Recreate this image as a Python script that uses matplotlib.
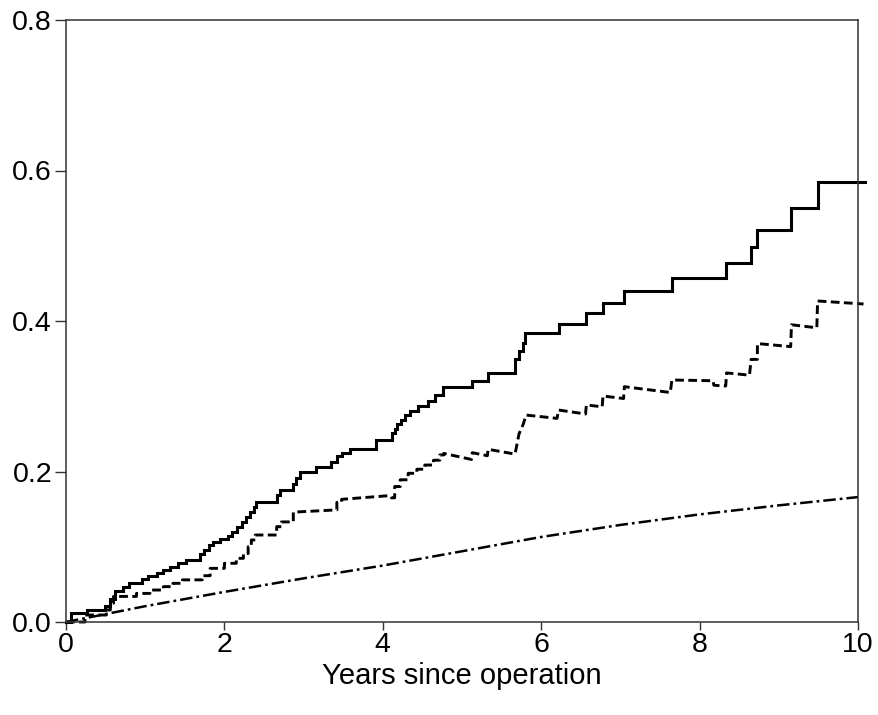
import matplotlib
matplotlib.use("Agg")
import matplotlib.pyplot as plt
import numpy as np

plt.rcParams['font.family'] = ['Liberation Sans', 'DejaVu Sans']

# Observed cumulative incidence (solid step curve): jump times and levels
solid_t = [0, 0.06, 0.26, 0.49, 0.56, 0.62, 0.72, 0.79, 0.955, 1.04, 1.145, 1.23,
           1.31, 1.42, 1.52, 1.69, 1.74, 1.80, 1.86, 1.95, 2.05, 2.10, 2.16, 2.22,
           2.27, 2.32, 2.37, 2.40, 2.67, 2.70, 2.87, 2.91, 2.95, 3.16, 3.35, 3.42,
           3.48, 3.59, 3.92, 4.11, 4.15, 4.18, 4.23, 4.28, 4.34, 4.45, 4.57, 4.66,
           4.76, 5.13, 5.33, 5.67, 5.72, 5.77, 5.80, 6.22, 6.57, 6.78, 7.05, 7.65,
           8.33, 8.65, 8.73, 9.16, 9.49, 10.09]
solid_v = [0.0, 0.0116, 0.016, 0.021, 0.031, 0.0416, 0.047, 0.052, 0.0567, 0.061,
           0.0655, 0.069, 0.0735, 0.079, 0.083, 0.091, 0.096, 0.102, 0.1067, 0.110,
           0.114, 0.120, 0.1267, 0.133, 0.140, 0.1466, 0.153, 0.160, 0.169, 0.176,
           0.184, 0.192, 0.200, 0.2064, 0.213, 0.2206, 0.225, 0.230, 0.242, 0.2507,
           0.257, 0.263, 0.269, 0.275, 0.281, 0.287, 0.294, 0.3017, 0.3127, 0.320,
           0.3305, 0.350, 0.360, 0.371, 0.3836, 0.396, 0.410, 0.4243, 0.440, 0.4567,
           0.477, 0.498, 0.521, 0.550, 0.585, 0.585]

# Excess curve (dashed): vertices (time, value)
dashed_points = [
    (0, 0), (0.24, 0), (0.24, 0.0093), (0.51, 0.0093), (0.51, 0.016), (0.56, 0.016),
    (0.56, 0.025), (0.60, 0.025), (0.60, 0.034), (0.89, 0.034), (0.89, 0.038),
    (1.06, 0.038), (1.06, 0.0425), (1.23, 0.0425), (1.23, 0.047), (1.35, 0.047),
    (1.35, 0.0514), (1.47, 0.0514), (1.47, 0.056), (1.72, 0.056), (1.72, 0.0615),
    (1.82, 0.0615), (1.82, 0.0713), (2.00, 0.0713), (2.00, 0.078), (2.15, 0.078),
    (2.15, 0.0846), (2.24, 0.0846), (2.24, 0.091), (2.30, 0.091), (2.30, 0.100),
    (2.34, 0.100), (2.34, 0.109), (2.39, 0.109), (2.39, 0.1156), (2.66, 0.1156),
    (2.66, 0.1267), (2.72, 0.1267), (2.72, 0.133), (2.87, 0.133), (2.87, 0.146),
    (3.42, 0.149), (3.42, 0.159), (3.48, 0.159), (3.48, 0.163), (4.09, 0.168),
    (4.11, 0.165), (4.15, 0.165), (4.15, 0.180), (4.22, 0.180), (4.22, 0.189),
    (4.32, 0.189), (4.32, 0.1976), (4.43, 0.1976), (4.43, 0.203), (4.53, 0.203),
    (4.53, 0.2086), (4.64, 0.2086), (4.64, 0.215), (4.72, 0.215), (4.72, 0.222),
    (4.77, 0.222), (4.77, 0.224), (5.12, 0.216), (5.13, 0.225), (5.32, 0.221),
    (5.33, 0.2295), (5.66, 0.2233), (5.67, 0.2233), (5.72, 0.250), (5.77, 0.262),
    (5.81, 0.275), (6.20, 0.2706), (6.22, 0.2817), (6.56, 0.2764), (6.57, 0.2884),
    (6.77, 0.286), (6.78, 0.3003), (7.04, 0.297), (7.05, 0.3127), (7.63, 0.305),
    (7.65, 0.3216), (8.17, 0.3206), (8.18, 0.3146), (8.33, 0.3136), (8.34, 0.331),
    (8.63, 0.328), (8.65, 0.349), (8.73, 0.349), (8.73, 0.370), (9.15, 0.366),
    (9.16, 0.395), (9.48, 0.391), (9.49, 0.4266), (10.07, 0.4226)]
dashed_t = [p[0] for p in dashed_points]
dashed_v = [p[1] for p in dashed_points]

# Expected cumulative incidence (dash-dot smooth curve)
expected_t = [0, 1, 2, 3, 4, 5, 6, 7, 8, 9, 10]
expected_v = [0.0, 0.021, 0.040, 0.058, 0.075, 0.094, 0.113, 0.129, 0.143, 0.155, 0.166]

xticks = [0, 2, 4, 6, 8, 10]
xticklabels = ['0', '2', '4', '6', '8', '10']
yticks = [0.0, 0.2, 0.4, 0.6, 0.8]
yticklabels = ['0.0', '0.2', '0.4', '0.6', '0.8']
xlabel = 'Years since operation'

fig = plt.figure(figsize=(8.79, 7.15), dpi=100)
ax = fig.add_axes([66/879, 1 - 622/715, (858 - 66)/879, (622 - 20)/715])

ax.plot(solid_t, solid_v, drawstyle='steps-post', color='black', lw=2.2,
        solid_joinstyle='miter', clip_on=False)
ax.plot(dashed_t, dashed_v, color='black', lw=2.1, linestyle=(0, (3.0, 1.5)),
        clip_on=False)
ax.plot(expected_t, expected_v, color='black', lw=1.8,
        linestyle=(0, (5.0, 1.6, 1.1, 1.6)), clip_on=False)

ax.set_xlim(0, 10)
ax.set_ylim(0, 0.8)
ax.set_xticks(xticks)
ax.set_xticklabels(xticklabels)
ax.set_yticks(yticks)
ax.set_yticklabels(yticklabels)
ax.tick_params(axis='x', length=6, width=1.0, pad=1, labelsize=20.5, color='#333333')
ax.tick_params(axis='y', length=8, width=1.0, pad=2, labelsize=20.5, color='#333333')
for s in ax.spines.values():
    s.set_linewidth(1.1)
    s.set_color('#333333')
ax.set_xlabel(xlabel, fontsize=21, labelpad=3)

fig.savefig('out.png', dpi=100)
